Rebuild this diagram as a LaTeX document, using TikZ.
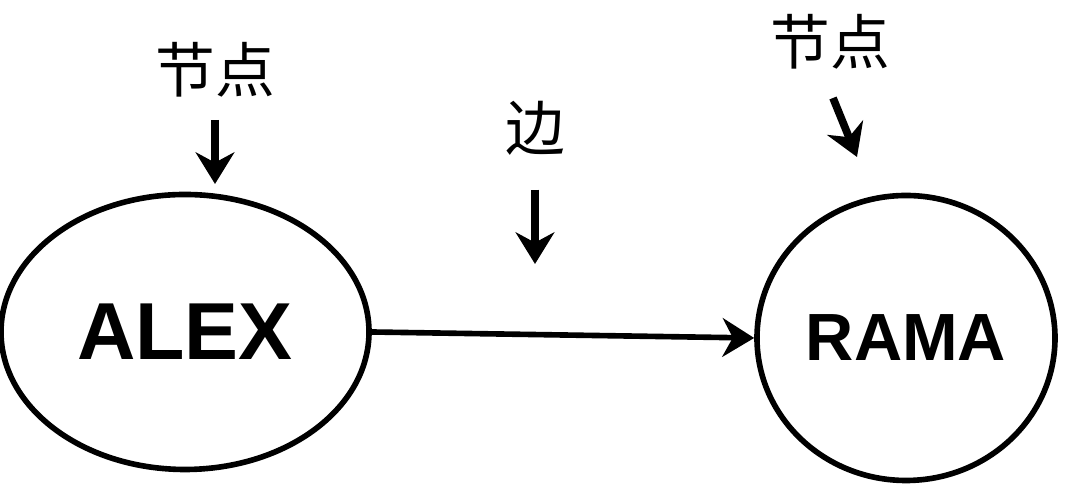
\documentclass[tikz,border=0pt]{standalone}
\usepackage{fontspec}
\setsansfont{Liberation Sans}
\newfontfamily\cjk{Noto Sans CJK SC}
\usetikzlibrary{
	arrows.meta,
	positioning,
	shapes.geometric
}

\begin{document}
\begin{tikzpicture}[>={Stealth[length=9pt,width=11pt]},line width=1.6pt]
		\useasboundingbox (0,0) rectangle (10.65,-4.95);
		\tikzset{
			person/.style={draw,ellipse,inner sep=0pt,font=\sffamily\bfseries},
			tag/.style={font=\cjk\fontsize{17}{17}\selectfont},
			pointer/.style={->,line width=2.2pt}
		}
		
		% First node
		\node[person,minimum width=3.68cm,minimum height=2.75cm,font=\sffamily\bfseries\fontsize{23}{23}\selectfont] (alex) at (1.85,-3.32) {ALEX};
		\node[tag] (tagalex) at (2.15,-0.7) {节点};
		\coordinate (tipalex) at (2.15,-1.84);
		\draw[pointer] (tagalex.south) ++(0,-0.08) -- (tipalex);
		
		% Second node
		\node[person,minimum width=2.98cm,minimum height=2.85cm,font=\sffamily\bfseries\fontsize{19}{19}\selectfont] (rama) at (9.06,-3.38) {RAMA};
		\node[tag] (tagrama) at (8.3,-0.42) {节点};
		\coordinate (tiprama) at (8.57,-1.57);
		\draw[pointer] (8.33,-0.98) -- (tiprama);
		
		% Edge
		\draw[->] (alex.east) -- (rama.west);
		\node[tag] (tagedge) at (5.35,-1.28) {边};
		\coordinate (tipedge) at (5.35,-2.64);
		\draw[pointer] (tagedge.south) ++(0,-0.2) -- (tipedge);
		
	\end{tikzpicture}
\end{document}
